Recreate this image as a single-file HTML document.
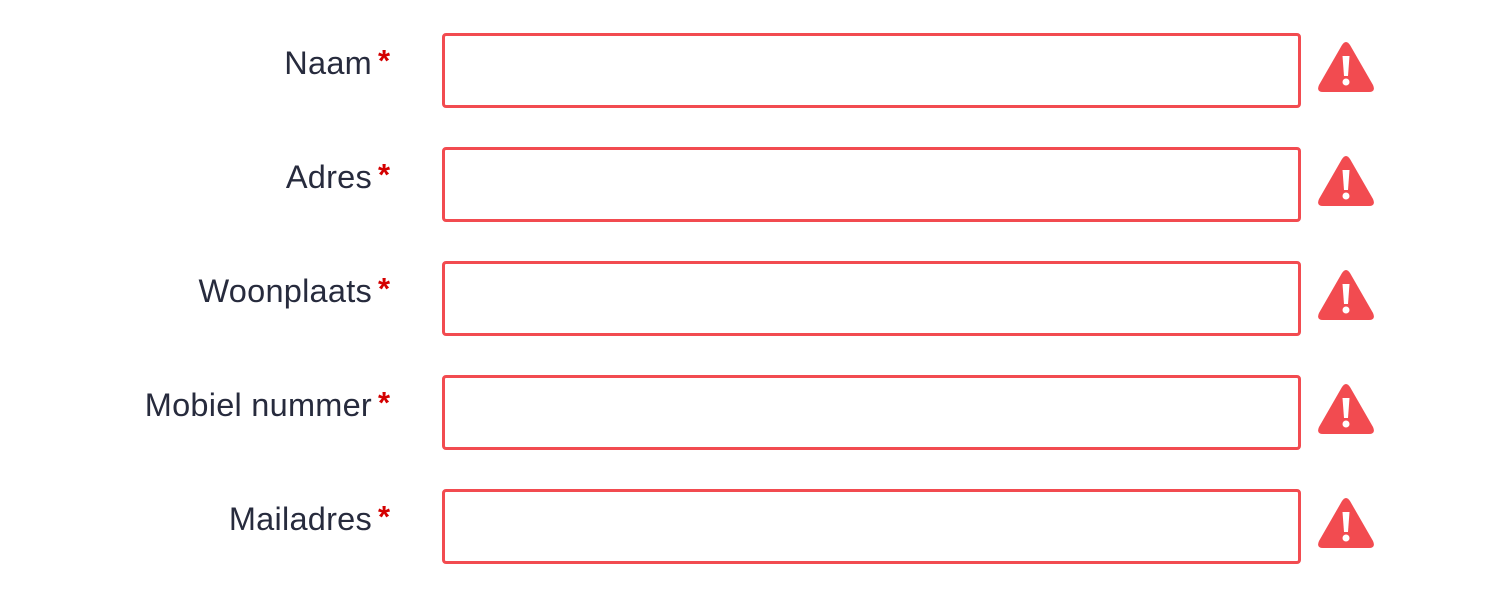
<!DOCTYPE html>
<html><head><meta charset="utf-8"><style>
body{margin:0;width:1500px;height:595px;background:#fff;position:relative;overflow:hidden;font-family:"Liberation Sans",sans-serif}
.l{position:absolute;right:1128px;font-size:32.5px;color:#272b3d;line-height:40px;letter-spacing:0.25px}
.a{position:absolute;left:378px;font-size:31px;color:#d40000;font-weight:bold}
.b{position:absolute;left:442px;width:853px;height:69px;border:3px solid #f24b50;border-radius:4px}
svg{position:absolute;left:1316px}
</style></head><body>
<div id="r"></div>
<script>
const labels=["Naam","Adres","Woonplaats","Mobiel nummer","Mailadres"];
let h="";
labels.forEach((t,i)=>{const y=i*114;
h+=`<div class="l" style="top:${43+y}px">${t}</div><div class="a" style="top:${43+y}px">*</div><div class="b" style="top:${33+y}px"></div>
<svg style="top:${40+y}px" width="60" height="54" viewBox="0 0 60 54"><path d="M26 5 Q30 -1 34 5 L57 45 Q60 52 53 52 L7 52 Q0 52 3 45 Z" fill="#f24b50"/><path d="M26.5 16 L33.5 16 L32 36 L28 36 Z" fill="#fff"/><circle cx="30" cy="42" r="3.5" fill="#fff"/></svg>`;});
document.getElementById("r").innerHTML=h;
</script>
</body></html>
